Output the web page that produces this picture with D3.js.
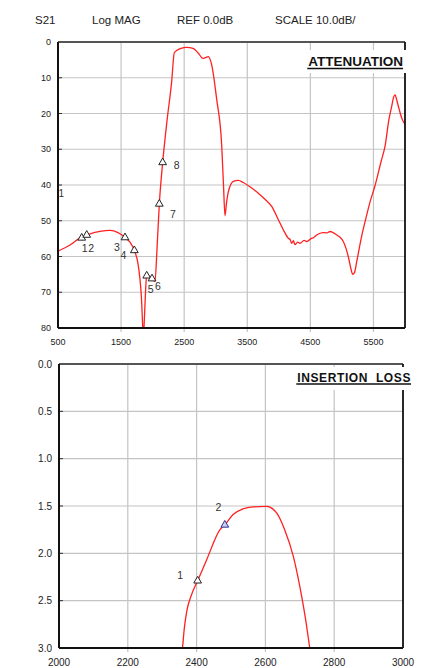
<!DOCTYPE html>
<html>
<head>
<meta charset="utf-8">
<script src="https://cdn.jsdelivr.net/npm/d3@7"></script>
<style>
  body { margin: 0; background: #fff; }
  svg { display: block; font-family: "Liberation Sans", Arial, sans-serif; }
</style>
</head>
<body>
<svg width="423" height="668"></svg>
<script>
// ---- data ----
var headerTexts = ["S21", "Log MAG", "REF 0.0dB", "SCALE 10.0dB/"];

// attenuation trace (MHz, dB)
var attFreq = [500, 690, 849, 1007, 1166, 1324, 1451, 1514, 1562, 1641, 1709, 1768, 1800, 1824, 1843, 1855, 1863, 1887, 1906, 1942, 2001, 2037, 2069, 2106, 2159, 2228, 2302, 2343, 2381, 2450, 2540, 2640, 2719, 2798, 2845, 2882, 2936, 3015, 3095, 3123, 3147, 3171, 3199, 3279, 3358, 3437, 3543, 3675, 3781, 3887, 3987, 4071, 4146, 4180, 4204, 4230, 4256, 4300, 4336, 4400, 4442, 4510, 4560, 4600, 4700, 4760, 4811, 4860, 4917, 4970, 5022, 5101, 5144, 5171, 5199, 5234, 5314, 5382, 5445, 5520, 5620, 5683, 5747, 5789, 5818, 5842, 5873, 5910, 5953, 6000];
var attDb =   [58.5, 56.8, 54.8, 53.7, 53.0, 52.7, 53.3, 54.0, 54.7, 56.0, 58.3, 62.0, 66.5, 72.0, 80.0, 84.0, 80.0, 70.0, 65.0, 65.5, 66.5, 67.0, 58.0, 45.3, 33.7, 22.0, 11.0, 3.0, 2.4, 1.8, 1.5, 1.8, 3.0, 4.6, 4.3, 4.1, 6.4, 16.0, 29.0, 40.0, 48.6, 45.0, 42.0, 39.0, 38.7, 39.3, 40.5, 42.3, 44.0, 46.0, 49.5, 52.5, 54.8, 55.3, 56.3, 55.6, 56.7, 56.0, 56.3, 55.5, 55.8, 55.0, 54.6, 54.0, 53.3, 53.4, 53.0, 53.3, 54.0, 54.6, 55.8, 60.0, 63.5, 65.0, 64.5, 61.5, 54.2, 49.2, 44.8, 40.5, 33.5, 29.2, 21.5, 18.0, 15.5, 14.8, 16.5, 19.0, 21.5, 23.0];

var attMarkers = [
  { n: "1", f: 876,  v: 54.8 },
  { n: "2", f: 955,  v: 54.0 },
  { n: "3", f: 1562, v: 54.7 },
  { n: "4", f: 1710, v: 58.3 },
  { n: "5", f: 1906, v: 65.4 },
  { n: "6", f: 1990, v: 66.2 },
  { n: "7", f: 2106, v: 45.3 },
  { n: "8", f: 2159, v: 33.7 }
];

// insertion loss trace (MHz, dB)
var ilFreq = [2352, 2359, 2364, 2372, 2385, 2403, 2429, 2468, 2482, 2506, 2535, 2564, 2603, 2632, 2656, 2681, 2700, 2717, 2729, 2740];
var ilLoss = [3.15, 3.0, 2.8, 2.6, 2.44, 2.29, 2.07, 1.75, 1.70, 1.59, 1.53, 1.51, 1.505, 1.57, 1.75, 2.03, 2.35, 2.7, 3.0, 3.25];

var ilMarkers = [
  { n: "1", f: 2403, v: 2.29 },
  { n: "2", f: 2482, v: 1.70 }
];

var attXTicks = [500, 1500, 2500, 3500, 4500, 5500];
var attYTicks = [0, 10, 20, 30, 40, 50, 60, 70, 80];
var ilXTicks = [2000, 2200, 2400, 2600, 2800, 3000];
var ilYTicks = [0, 0.5, 1.0, 1.5, 2.0, 2.5, 3.0];

// ---- drawing ----
var svg = d3.select("svg");

var headerX = [35, 92, 177, 275];
svg.append("g").selectAll("text").data(headerTexts).enter().append("text")
  .attr("x", function(d, i) { return headerX[i]; })
  .attr("y", 24)
  .attr("font-size", "11.5px")
  .attr("fill", "#222")
  .text(function(d) { return d; });

function panel(opt) {
  var x = d3.scaleLinear().domain(opt.xDomain).range([opt.left, opt.right]);
  var y = d3.scaleLinear().domain(opt.yDomain).range([opt.top, opt.bottom]);
  var g = svg.append("g");

  g.append("clipPath").attr("id", opt.id + "-clip")
    .append("rect")
    .attr("x", opt.left).attr("y", opt.top)
    .attr("width", opt.right - opt.left).attr("height", opt.bottom - opt.top);

  // grid
  g.append("g").selectAll("line").data(opt.xTicks.filter(function(d) { return d > opt.xDomain[0] && d < opt.xDomain[1]; }))
    .enter().append("line")
    .attr("x1", x).attr("x2", x)
    .attr("y1", opt.top).attr("y2", opt.bottom + 4)
    .attr("stroke", "#c4c4c4").attr("stroke-width", 1.2);
  g.append("g").selectAll("line").data(opt.yTicks.filter(function(d) { return d > opt.yDomain[0] && d < opt.yDomain[1]; }))
    .enter().append("line")
    .attr("x1", opt.left).attr("x2", opt.right)
    .attr("y1", y).attr("y2", y)
    .attr("stroke", "#c4c4c4").attr("stroke-width", 1.2);
  // short dark ticks on left axis
  g.append("g").selectAll("line").data(opt.yTicks)
    .enter().append("line")
    .attr("x1", opt.left).attr("x2", opt.left + 4)
    .attr("y1", y).attr("y2", y)
    .attr("stroke", "#333").attr("stroke-width", 1);

  // trace
  var line = d3.line()
    .x(function(d) { return x(d[0]); })
    .y(function(d) { return y(d[1]); })
    .curve(d3.curveMonotoneX);
  g.append("path")
    .datum(d3.zip(opt.xs, opt.ys))
    .attr("clip-path", "url(#" + opt.id + "-clip)")
    .attr("fill", "none")
    .attr("stroke", "#ff2020")
    .attr("stroke-width", 1.3)
    .attr("d", line);

  // frame
  g.append("line").attr("x1", opt.left).attr("x2", opt.right).attr("y1", opt.top).attr("y2", opt.top)
    .attr("stroke", "#555").attr("stroke-width", 2);
  g.append("line").attr("x1", opt.right).attr("x2", opt.right).attr("y1", opt.top).attr("y2", opt.bottom)
    .attr("stroke", "#111").attr("stroke-width", 1.8);
  g.append("line").attr("x1", opt.left).attr("x2", opt.left).attr("y1", opt.top).attr("y2", opt.bottom)
    .attr("stroke", "#111").attr("stroke-width", 2);
  g.append("line").attr("x1", opt.left).attr("x2", opt.right).attr("y1", opt.bottom).attr("y2", opt.bottom)
    .attr("stroke", "#111").attr("stroke-width", 2);

  // tick labels
  g.append("g").selectAll("text").data(opt.yTicks).enter().append("text")
    .attr("x", opt.left - 7).attr("y", y)
    .attr("dy", "0.35em")
    .attr("text-anchor", "end")
    .attr("font-size", opt.fs)
    .attr("fill", "#222")
    .text(opt.yFmt);
  g.append("g").selectAll("text").data(opt.xTicks).enter().append("text")
    .attr("x", x).attr("y", opt.bottom + opt.xLabelDy)
    .attr("text-anchor", "middle")
    .attr("font-size", opt.fs)
    .attr("fill", "#222")
    .text(function(d) { return d; });

  // title box
  g.append("rect")
    .attr("x", opt.title.x0).attr("y", opt.title.y0)
    .attr("width", opt.title.x1 - opt.title.x0).attr("height", opt.title.y1 - opt.title.y0)
    .attr("fill", "#fff");
  var t = g.append("text")
    .attr("x", opt.title.tx).attr("y", opt.title.ty)
    .attr("text-anchor", "end")
    .attr("font-size", opt.title.fs)
    .attr("font-weight", "bold")
    .attr("letter-spacing", opt.title.ls)
    .style("white-space", "pre")
    .attr("fill", "#111")
    .text(opt.title.text);
  var bb = t.node().getBBox();
  g.append("line")
    .attr("x1", bb.x - 1).attr("x2", bb.x + bb.width)
    .attr("y1", opt.title.ty + 2.5).attr("y2", opt.title.ty + 2.5)
    .attr("stroke", "#111").attr("stroke-width", 1.6);

  // markers
  var tri = d3.symbol().type(d3.symbolTriangle).size(26);
  var mg = g.append("g").selectAll("g").data(opt.markers).enter().append("g");
  mg.append("path")
    .attr("transform", function(d) { return "translate(" + x(d.f) + "," + y(d.v) + ")"; })
    .attr("d", tri)
    .attr("fill", function(d, i) { return opt.markerFill[i] || "#fff"; })
    .attr("stroke", function(d, i) { return opt.markerStroke[i] || "#222"; })
    .attr("stroke-width", 1);
  mg.append("text")
    .attr("x", function(d, i) { return x(d.f) + opt.labelOff[i][0]; })
    .attr("y", function(d, i) { return y(d.v) + opt.labelOff[i][1]; })
    .attr("text-anchor", "middle")
    .attr("font-size", "10.5px")
    .attr("fill", "#333")
    .text(function(d) { return d.n; });
  return { x: x, y: y, g: g };
}

var attPanel = panel({
  id: "att", left: 58, right: 405, top: 42, bottom: 328,
  xDomain: [500, 6000], yDomain: [0, 80],
  xTicks: attXTicks, yTicks: attYTicks,
  xs: attFreq, ys: attDb,
  fs: "9px", xLabelDy: 17, yFmt: function(d) { return d; },
  title: { text: "ATTENUATION", x0: 301, x1: 407, y0: 50, y1: 73, tx: 403, ty: 66, fs: "13.5px", ls: 0 },
  markers: attMarkers,
  markerFill: [], markerStroke: [],
  labelOff: [[3, 14], [4.5, 17], [-8, 13], [-11, 9], [4, 17], [6, 11], [13.5, 14], [14, 7]]
});
// stray marker label at the left edge
attPanel.g.append("text").attr("x", 58.5).attr("y", 197)
  .attr("font-size", "10px").attr("fill", "#333").text("1");

var ilPanel = panel({
  id: "il", left: 59, right: 403, top: 364, bottom: 648,
  xDomain: [2000, 3000], yDomain: [0, 3],
  xTicks: ilXTicks, yTicks: ilYTicks,
  xs: ilFreq, ys: ilLoss,
  fs: "10px", xLabelDy: 18, yFmt: d3.format(".1f"),
  title: { text: "INSERTION  LOSS", x0: 288, x1: 413, y0: 367, y1: 390, tx: 411, ty: 381.5, fs: "12px", ls: 0.6 },
  markers: ilMarkers,
  markerFill: ["#fff", "#c8d0f0"], markerStroke: ["#222", "#303090"],
  labelOff: [[-17.5, -1.5], [-6.5, -14]]
});
</script>
</body>
</html>
